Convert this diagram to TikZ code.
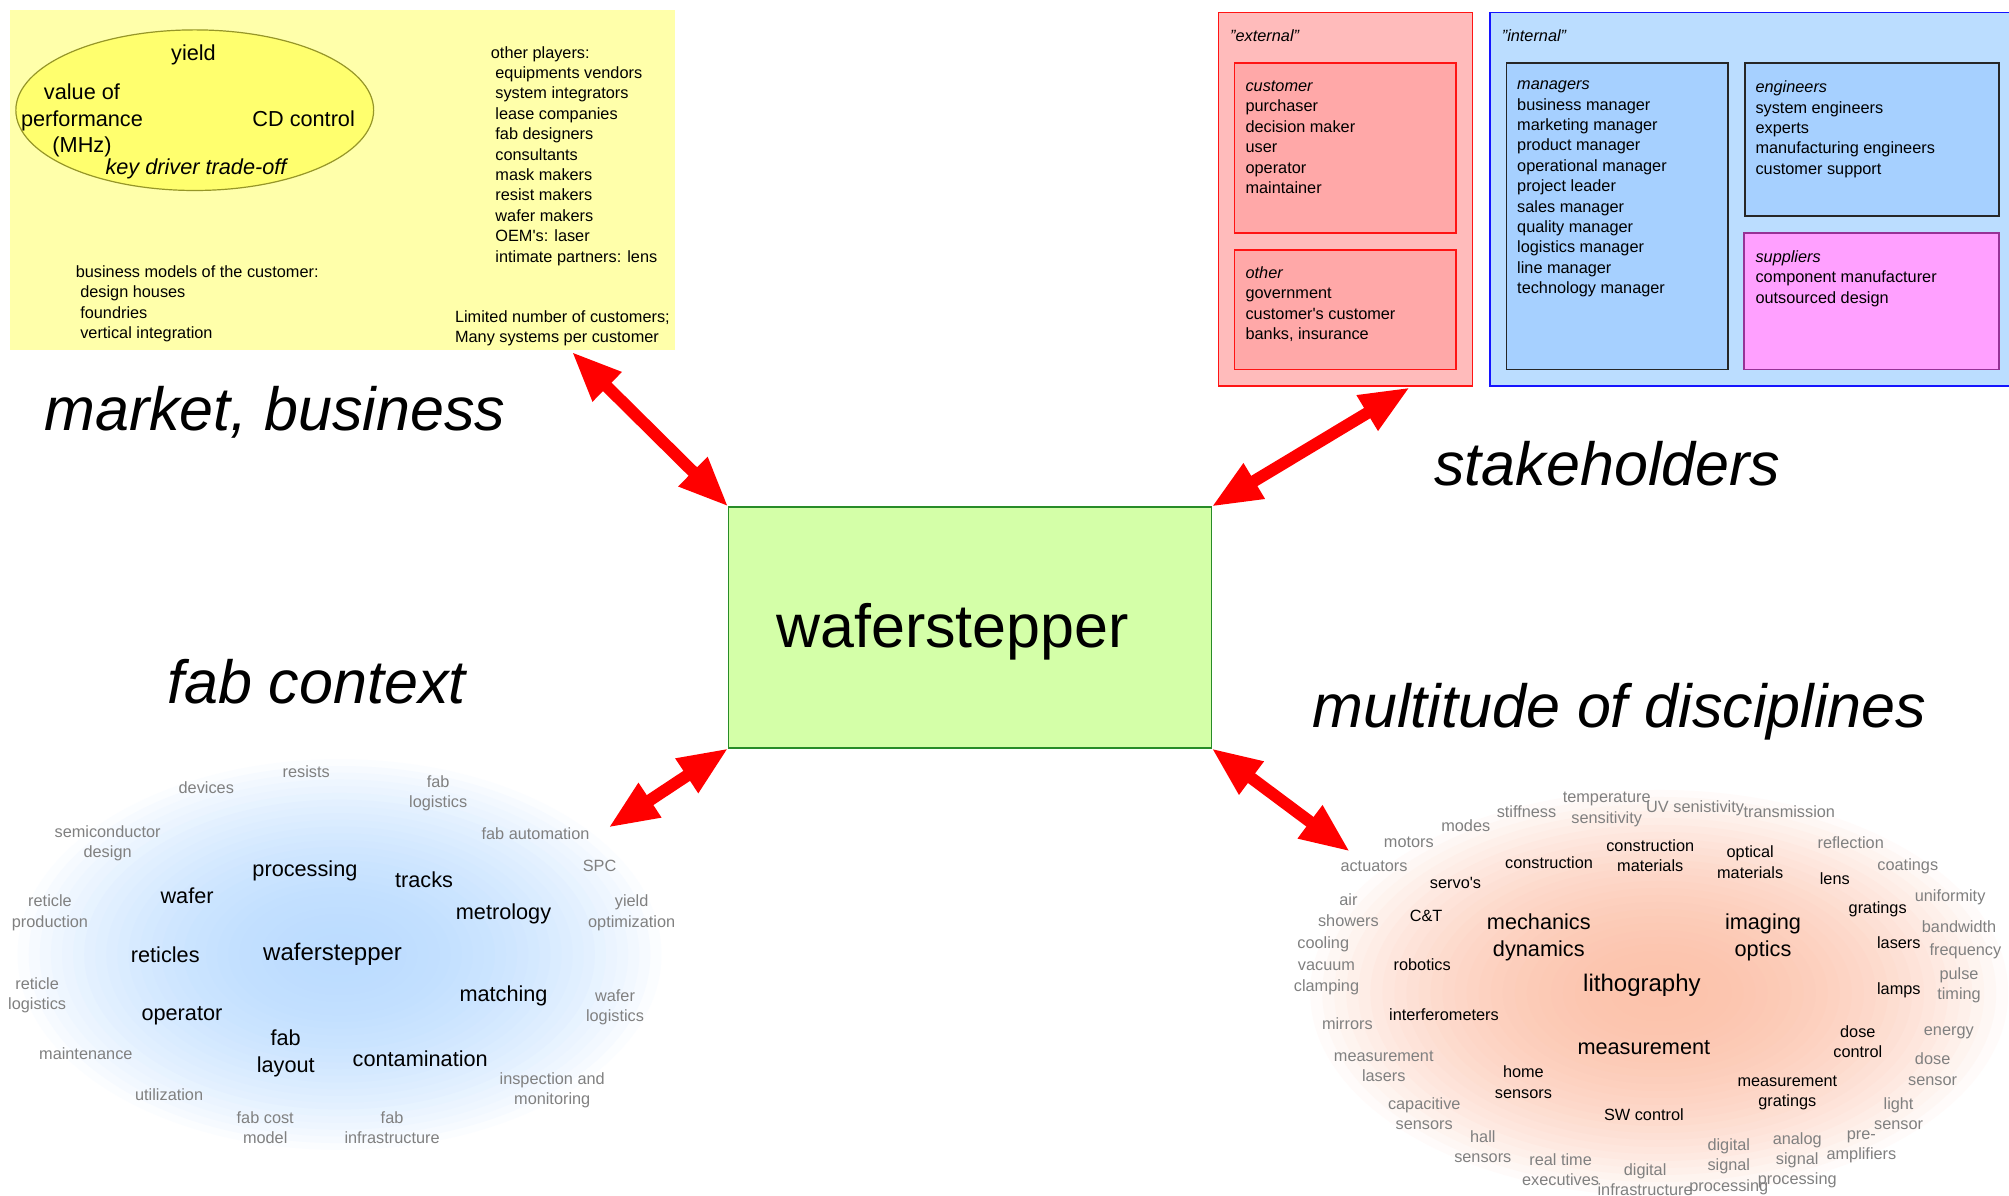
\documentclass[tikz,border=0pt]{standalone}
\usepackage{fontspec}
\setmainfont{Liberation Sans}
\usetikzlibrary{arrows.meta,calc,fit}

\definecolor{mktbg}{RGB}{255,255,170}
\definecolor{mktell}{RGB}{255,255,110}
\definecolor{mktline}{RGB}{150,150,40}
\definecolor{waferbg}{RGB}{212,255,168}
\definecolor{waferline}{RGB}{40,140,40}
\definecolor{extbg}{RGB}{255,187,187}
\definecolor{extin}{RGB}{255,168,168}
\definecolor{extline}{RGB}{255,20,20}
\definecolor{intbg}{RGB}{187,221,255}
\definecolor{intin}{RGB}{166,208,255}
\definecolor{intline}{RGB}{20,20,255}
\definecolor{supbg}{RGB}{255,160,255}
\definecolor{supline}{RGB}{150,50,150}
\definecolor{fabc}{RGB}{188,220,255}
\definecolor{discc}{RGB}{252,195,172}
\definecolor{faint}{RGB}{128,128,128}

\newcommand{\fsmall}{\fontsize{16.3}{20.4}\selectfont}
\newcommand{\fmed}{\fontsize{21.7}{26.8}\selectfont}
\newcommand{\fword}{\fontsize{24}{28}\selectfont}
\newcommand{\fhuge}{\fontsize{61}{70}\selectfont}
\newcommand{\ind}{\hspace*{4.5pt}}
\newcommand{\ap}{\textquotesingle}

\tikzset{
 area/.style={inner sep=0pt,outer sep=0pt},
 listtext/.style={font=\fsmall,align=left,anchor=north west,inner sep=0pt},
 heading/.style={font=\fhuge\itshape,anchor=base,inner sep=0pt},
 keyword/.style={font=\fmed,align=center,inner sep=0pt},
 smallword/.style={font=\fsmall,align=center,inner sep=0pt},
 minorword/.style={font=\fsmall,text=faint,align=center,inner sep=0pt},
 link/.style={red,line width=12pt,{Triangle[length=50pt,width=38pt]}-{Triangle[length=50pt,width=38pt]}},
}

\begin{document}
\begin{tikzpicture}[x=1.28125pt,y=-1.28125pt]
\useasboundingbox (0,0) rectangle (1568,933);

% word clouds
\foreach \k in {0,...,29}{
 \pgfmathsetmacro\r{1-\k/30}
 \pgfmathsetmacro\p{100*(1-\r*\r)}
 \fill[fabc!\p!white] (265,745) ellipse ({333pt*\r} and {202pt*\r});
 \fill[discc!\p!white] (1295,775) ellipse ({361pt*\r} and {210pt*\r});
}

% market, business
\node[area,fill=mktbg,fit={(8,8) (527,273)}] (market) {};
\draw[mktline,fill=mktell,line width=1.2pt] (152,86) ellipse (178.9pt and 80.3pt);
\node[keyword] (yield) at (151,42.5) {yield};
\node[keyword] (perf) at (64,94) {value of\\performance\\(MHz)};
\node[keyword] (cd) at (237,93) {CD control};
\node[keyword,font=\fmed\itshape] (tradeoff) at (153,132) {key driver trade-off};
\node[listtext] (players) at (383,36) {other players:\\\ind equipments vendors\\\ind system integrators\\\ind lease companies\\\ind fab designers\\\ind consultants\\\ind mask makers\\\ind resist makers\\\ind wafer makers\\\ind OEM\ap s: laser\\\ind intimate partners: lens};
\node[listtext] (bizmodels) at (59,207) {business models of the customer:\\\ind design houses\\\ind foundries\\\ind vertical integration};
\node[listtext] (customers) at (355,242) {Limited number of customers;\\Many systems per customer};

% stakeholders
\node[area,fill=extbg,draw=extline,line width=1.5pt,fit={(951.2,9.6) (1149.3,301.3)}] (external) {};
\node[area,fill=extin,draw=extline,line width=1.5pt,fit={(963.5,49.2) (1136.4,181.9)}] (customer) {};
\node[area,fill=extin,draw=extline,line width=1.5pt,fit={(963.5,195.1) (1136.4,288.2)}] (other) {};
\node[area,fill=intbg,draw=intline,line width=1.5pt,fit={(1163,9.6) (1580,301.3)}] (internal) {};
\node[area,fill=intin,draw=black!85,line width=1.5pt,fit={(1175.9,49.2) (1348.5,288.2)}] (managers) {};
\node[area,fill=intin,draw=black!85,line width=1.5pt,fit={(1362,49.2) (1560.2,168.6)}] (engineers) {};
\node[area,fill=supbg,draw=supline,line width=1.5pt,fit={(1361,181.9) (1560.2,288.2)}] (suppliers) {};
\node[listtext,font=\fsmall\itshape] (exttxt) at (960,23) {"external"};
\node[listtext,font=\fsmall\itshape] (inttxt) at (1172,23) {"internal"};
\node[listtext] (custtxt) at (972,63) {\textit{customer}\\purchaser\\decision maker\\user\\operator\\maintainer};
\node[listtext] (othertxt) at (972,208) {\textit{other}\\government\\customer\ap s customer\\banks, insurance};
\node[listtext] (mantxt) at (1184,63) {\textit{managers}\\business manager\\marketing manager\\product manager\\operational manager\\project leader\\sales manager\\quality manager\\logistics manager\\line manager\\technology manager};
\node[listtext] (engtxt) at (1370,63) {\textit{engineers}\\system engineers\\experts\\manufacturing engineers\\customer support};
\node[listtext] (suptxt) at (1370,195.5) {\textit{suppliers}\\component manufacturer\\outsourced design};

% center
\node[area,fill=waferbg,draw=waferline,line width=1.8pt,fit={(568.5,395.5) (945.5,584)}] (wafer) {};
\node[heading,font=\fhuge] (wafertxt) at (743.5,505) {waferstepper};

\node[heading] (mkttitle) at (214.5,336) {market, business};
\node[heading] (stktitle) at (1254.5,379) {stakeholders};
\node[heading] (fabtitle) at (247,549) {fab context};
\node[heading] (disctitle) at (1264,568) {multitude of disciplines};

% fab context
\node[keyword,font=\fword] (fabcore) at (259.6,745) {waferstepper};
\foreach \x/\y/\t [count=\i] in {238/680/processing, 331/687/tracks, 146/699/wafer,
 393/713/metrology, 129/745/reticles, 393/777/matching, 142/793/operator,
 223/822/{fab\\layout}, 328/826/contamination}
 \node[keyword] (fabkey\i) at (\x,\y) {\t};
\foreach \x/\y/\t [count=\i] in {239/602/resists, 161/615/devices, 342/619/{fab\\logistics},
 84/658/{semiconductor\\design}, 418/651/fab automation, 468/676/SPC,
 39/712.5/{reticle\\production}, 493/712.5/{yield\\optimization},
 29/777/{reticle\\logistics}, 480/786/{wafer\\logistics}, 67/822/maintenance,
 431/851/{inspection and\\monitoring}, 132/854/utilization,
 207/880/{fab cost\\model}, 306/880/{fab\\infrastructure}}
 \node[minorword] (fabmin\i) at (\x,\y) {\t};

% disciplines
\node[keyword,font=\fword] (disccore) at (1281.5,769) {lithography};
\foreach \x/\y/\t [count=\i] in {1201/731.7/{mechanics\\dynamics}, 1376/731.7/{imaging\\optics},
 1283/818/measurement}
 \node[keyword] (disckey\i) at (\x,\y) {\t};
\foreach \x/\y/\t [count=\i] in {1209/673/construction, 1288/668/{construction\\materials},
 1366/673/{optical\\materials}, 1432/686/lens, 1136/689/servo\ap s, 1113/715/C\&T,
 1465.5/710/gratings, 1482/736/lasers, 1110/752.6/robotics, 1482/772.7/lamps,
 1127/792/interferometers, 1450/813/{dose\\control}, 1189/844.6/{home\\sensors},
 1395/852.8/{measurement\\gratings}, 1283/870/SW control}
 \node[smallword] (discsub\i) at (\x,\y) {\t};
\foreach \x/\y/\t [count=\i] in {1254/631.7/{temperature\\sensitivity}, 1191.4/633.5/stiffness,
 1323/631/UV senistivity, 1396.5/633.5/transmission, 1144/644.7/modes, 1099.6/657.7/motors,
 1444.5/657.7/reflection, 1072.4/676/actuators, 1489/676/coatings, 1522/700/uniformity,
 1052.4/710.5/{air\\showers}, 1529/723.3/bandwidth, 1032.8/736.8/cooling,
 1534/742.2/frequency, 1035.3/763.6/{vacuum\\clamping}, 1529/768.8/{pulse\\timing},
 1051.6/799/mirrors, 1521/806/energy, 1080/832/{measurement\\lasers},
 1508.4/834.5/{dose\\sensor}, 1111.6/869/{capacitive\\sensors}, 1481.8/869/{light\\sensor},
 1157.3/895/{hall\\sensors}, 1218/913/{real time\\executives},
 1284/920.8/{digital\\infrastructure}, 1349.3/910.6/{digital\\signal\\processing},
 1402.7/905.6/{analog\\signal\\processing}, 1452.8/895/{pre-\\amplifiers}}
 \node[minorword] (discmin\i) at (\x,\y) {\t};

% connections
\coordinate (fabend) at (474.8,646);
\coordinate (discend) at (1053.7,664.7);
\draw[link] ($(market.south west)+(438.2,1.5)$) -- (wafer.north west);
\draw[link] ($(external.south west)+(149.3,1)$) -- (wafer.north east);
\draw[link] (wafer.south west) -- (fabend);
\draw[link] (wafer.south east) -- (discend);
\end{tikzpicture}
\end{document}
